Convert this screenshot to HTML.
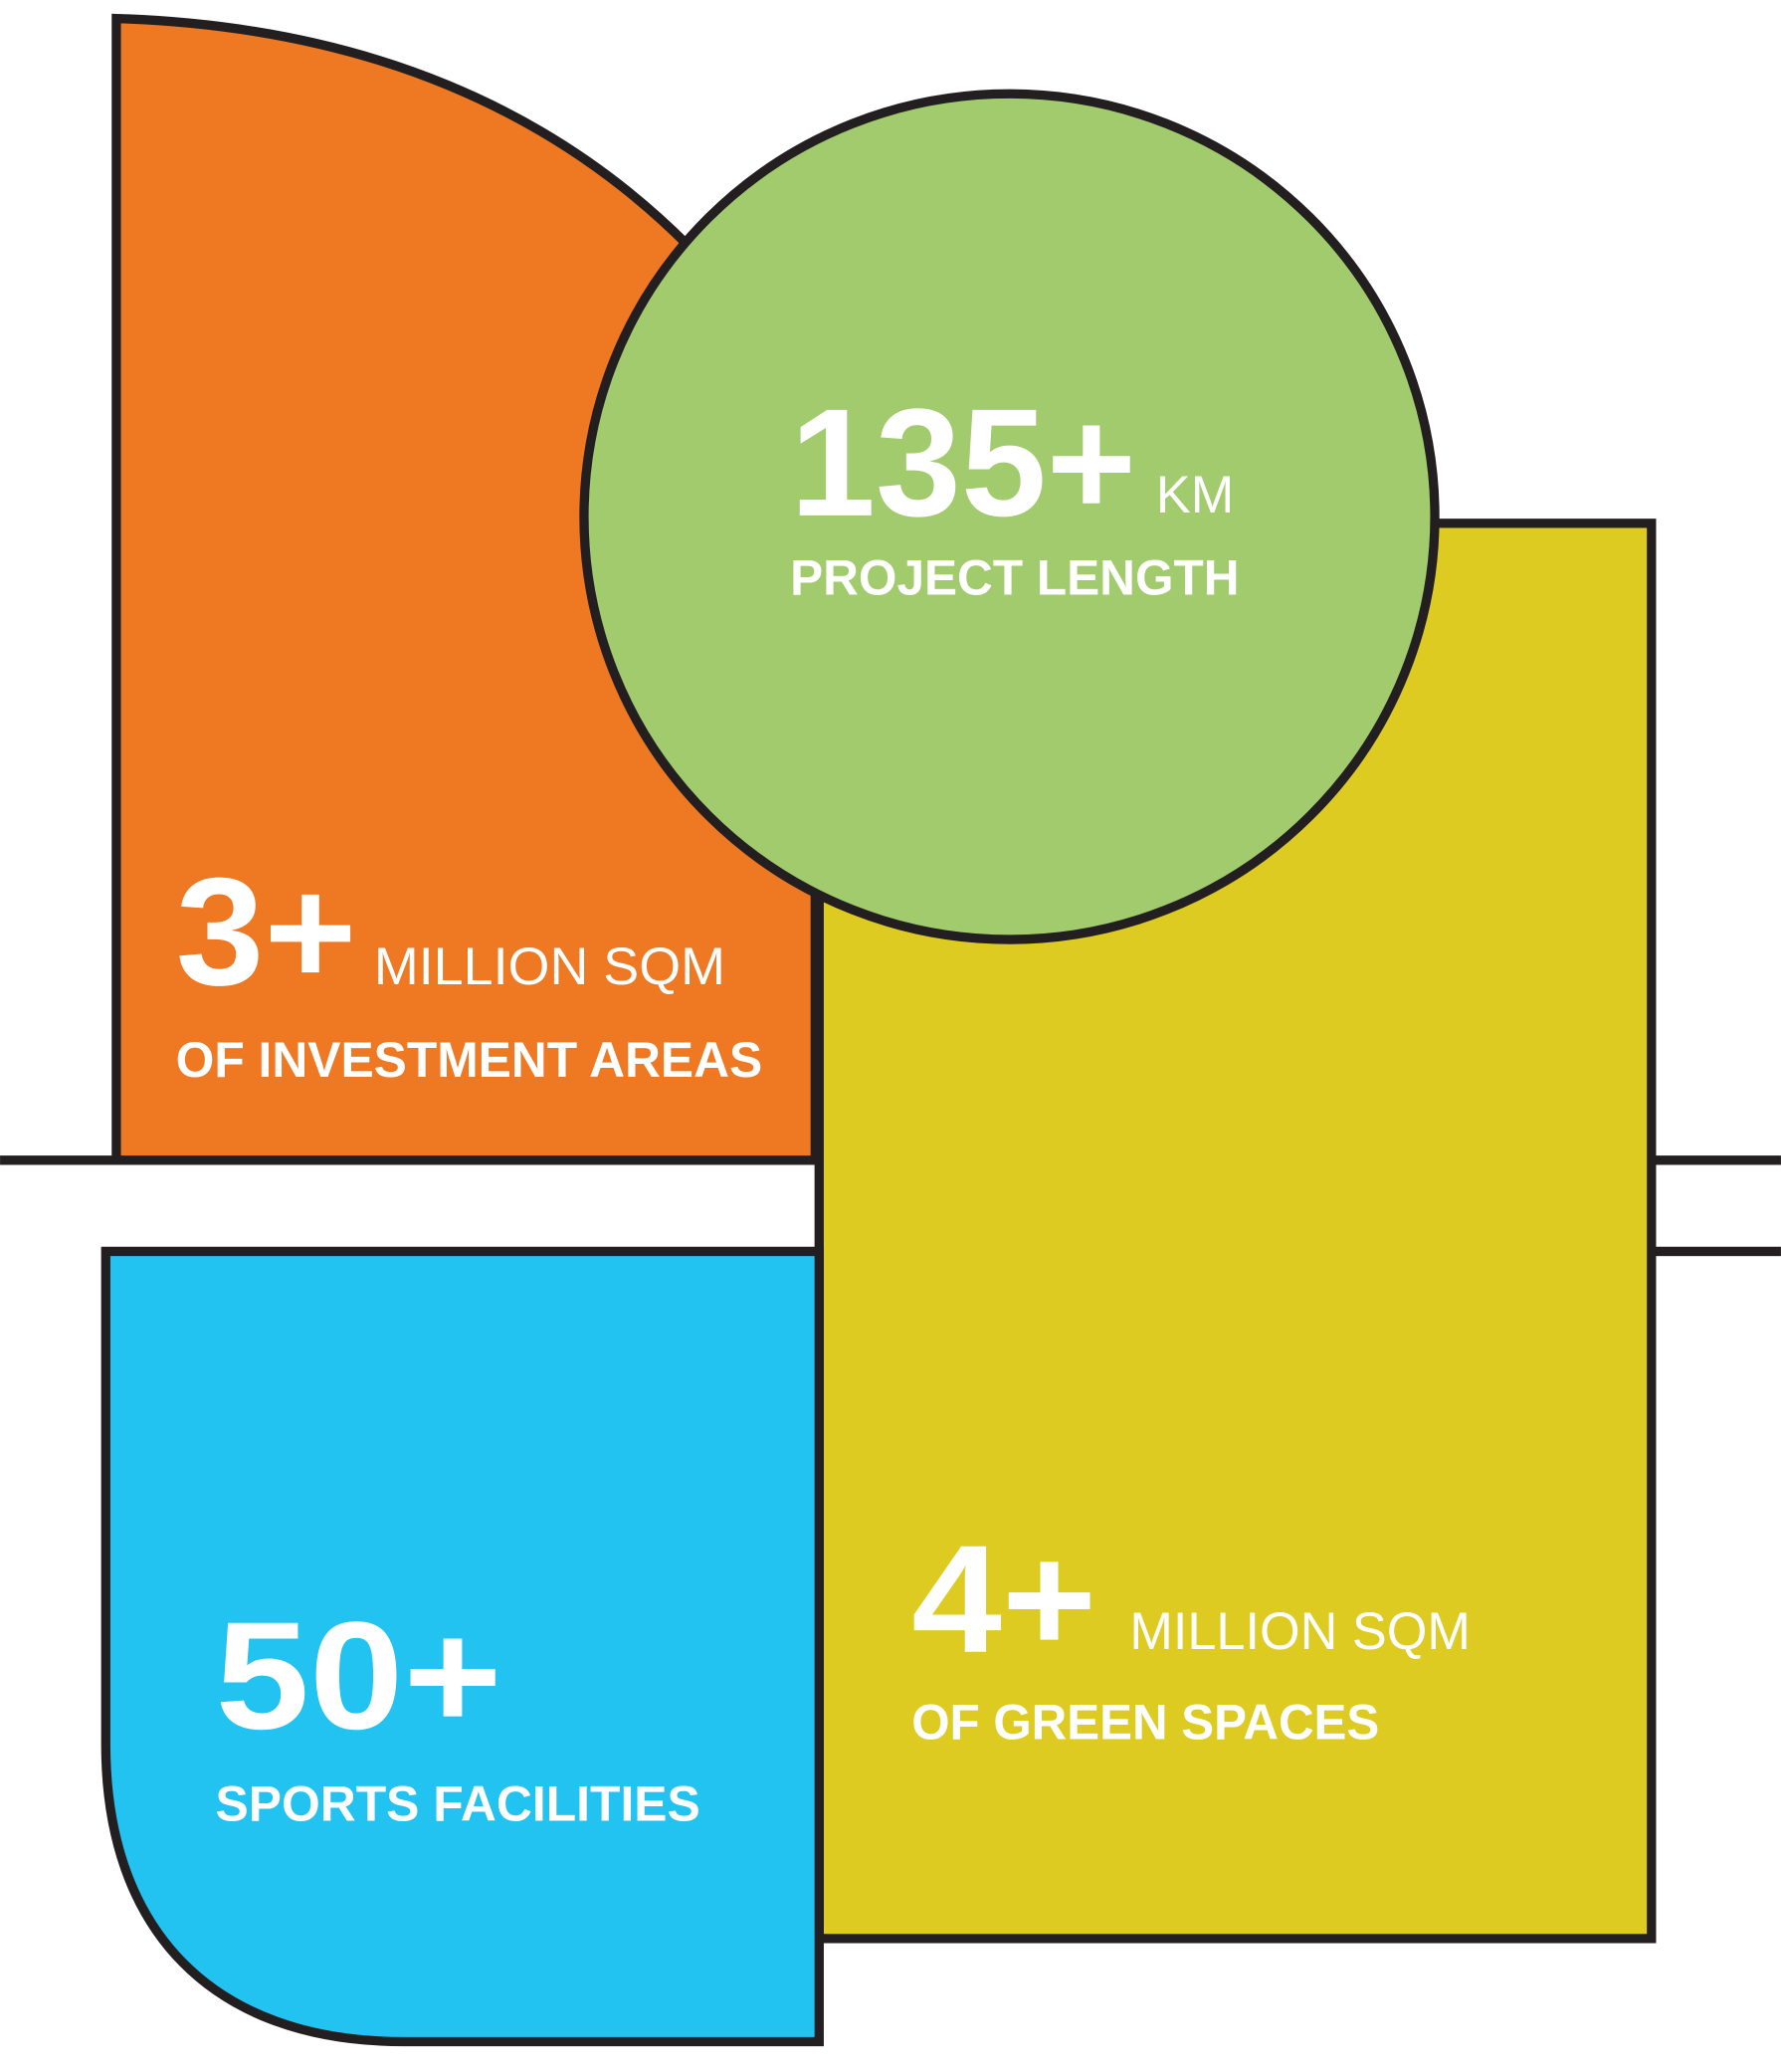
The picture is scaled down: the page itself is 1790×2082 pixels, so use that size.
<!DOCTYPE html>
<html><head><meta charset="utf-8"><style>html,body{margin:0;padding:0;background:#fff}svg{display:block}</style></head>
<body>
<svg width="1790" height="2082" viewBox="0 0 1348 1568" xmlns="http://www.w3.org/2000/svg">
<g stroke="#231f20" stroke-width="7" stroke-linejoin="miter">
<line x1="0" y1="878" x2="90" y2="878"/>
<line x1="1250" y1="878" x2="1348" y2="878"/>
<line x1="1250" y1="947" x2="1348" y2="947"/>
<path d="M88,14 C280,20 420,85 520,185 L617,320 L617,878 L88,878 Z" fill="#EF7823"/>
<rect x="620" y="396" width="630" height="1071" fill="#DDCB22"/>
<path d="M80,947 L620,947 L620,1545 L305,1545 C160,1545 80,1460 80,1320 Z" fill="#22C3F1"/>
<ellipse cx="764" cy="391" rx="322" ry="320" fill="#A2CB6E"/>
</g>
<g fill="#fff" font-family="Liberation Sans, sans-serif">
<text x="598" y="390" font-size="116" font-weight="bold" textLength="262" lengthAdjust="spacingAndGlyphs">135+</text>
<text x="875" y="388" font-size="40" textLength="59" lengthAdjust="spacingAndGlyphs">KM</text>
<text x="598" y="450" font-size="38" font-weight="bold" textLength="340" lengthAdjust="spacingAndGlyphs">PROJECT LENGTH</text>
<text x="133" y="745" font-size="116" font-weight="bold" textLength="137" lengthAdjust="spacingAndGlyphs">3+</text>
<text x="283" y="745" font-size="40" textLength="266" lengthAdjust="spacingAndGlyphs">MILLION SQM</text>
<text x="133" y="815" font-size="38" font-weight="bold" textLength="444" lengthAdjust="spacingAndGlyphs">OF INVESTMENT AREAS</text>
<text x="163" y="1308" font-size="116" font-weight="bold" textLength="217" lengthAdjust="spacingAndGlyphs">50+</text>
<text x="163" y="1378" font-size="38" font-weight="bold" textLength="367" lengthAdjust="spacingAndGlyphs">SPORTS FACILITIES</text>
<text x="690" y="1250" font-size="116" font-weight="bold" textLength="140" lengthAdjust="spacingAndGlyphs">4+</text>
<text x="855" y="1248" font-size="40" textLength="258" lengthAdjust="spacingAndGlyphs">MILLION SQM</text>
<text x="690" y="1316" font-size="38" font-weight="bold" textLength="354" lengthAdjust="spacingAndGlyphs">OF GREEN SPACES</text>
</g>
</svg>
</body></html>
